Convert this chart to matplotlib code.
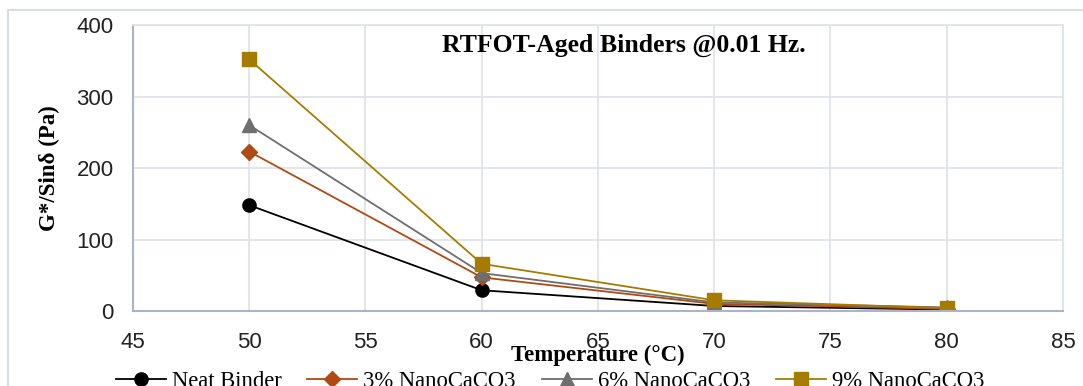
import matplotlib
matplotlib.use('Agg')
import matplotlib.pyplot as plt
from matplotlib import font_manager
from matplotlib.patches import Rectangle

# ---------------- data ----------------
temperature = [50, 60, 70, 80]
neat_binder = [148, 29, 7, 2]
nano_3 = [223, 47, 10, 3]
nano_6 = [260, 53, 12, 5]
nano_9 = [352, 66, 15, 4]
series_names = ['Neat Binder', '3% NanoCaCO3', '6% NanoCaCO3', '9% NanoCaCO3']

# ---------------- fonts ----------------
names = {f.name for f in font_manager.fontManager.ttflist}
tick_font = 'Liberation Sans Narrow' if 'Liberation Sans Narrow' in names else 'Liberation Sans'
serif = ['Liberation Serif', 'DejaVu Serif']

fig = plt.figure(figsize=(10.83, 3.86), dpi=100)
ax = fig.add_axes([0.1228, 0.1943, 0.8587, 0.7409])

# outer chart border (Excel chart area)
fig.patches.append(Rectangle((8 / 1083, -0.1), 1.2, 1 - 10 / 386 + 0.1,
                             transform=fig.transFigure, fill=False,
                             edgecolor='#d9dde5', linewidth=1.5))

styles = [
    (neat_binder, 'black', 'o', 9.5),
    (nano_3, '#b04a12', 'D', 8),
    (nano_6, '#6e6e6e', '^', 10.5),
    (nano_9, '#a67c00', 's', 10),
]
for (vals, col, mk, ms), name in zip(styles, series_names):
    ax.plot(temperature, vals, color=col, marker=mk, markersize=ms,
            linewidth=1.3, label=name)

ax.set_xlim(45, 85)
ax.set_ylim(0, 400)
ax.set_xticks(range(45, 86, 5))
ax.set_yticks(range(0, 401, 100))
ax.grid(True, color='#dfe3ea', linewidth=1.3)
ax.set_axisbelow(True)
for s in ['top', 'right']:
    ax.spines[s].set_color('#dfe3ea')
    ax.spines[s].set_linewidth(1.3)
for s in ['left', 'bottom']:
    ax.spines[s].set_color('#aab4c8')
    ax.spines[s].set_linewidth(1.5)
ax.tick_params(length=0, labelsize=16)
ax.tick_params(axis='x', pad=15)
ax.tick_params(axis='y', pad=14)
for lab in ax.get_xticklabels() + ax.get_yticklabels():
    lab.set_fontfamily(tick_font)
    lab.set_color('#222222')

ax.set_xlabel('Temperature (°C)', fontfamily=serif, fontweight='bold',
              fontsize=16.5, labelpad=-6)
ax.set_ylabel('G*/Sinδ (Pa)', fontfamily=serif, fontweight='bold',
              fontsize=16.5, labelpad=12)
ax.text(66.1, 372, 'RTFOT-Aged Binders @0.01 Hz.', fontfamily=serif,
        fontweight='bold', fontsize=18.5, ha='center', va='center')

fig.legend(loc='center', bbox_to_anchor=(0.508, 0.012), ncol=4, frameon=False,
           prop={'family': serif, 'size': 16.3}, handlelength=2.2,
           columnspacing=1.15, handletextpad=0.27)

fig.savefig('out.png', dpi=100)
